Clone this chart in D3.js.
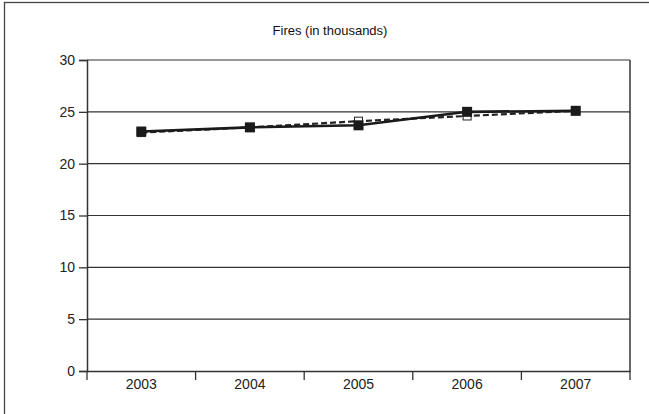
<html lang="en">
<head>
  <meta http-equiv="Content-Type" content="text/html; charset=utf-8" />
  <script src="https://d3js.org/d3.v7.min.js"></script>
  <style>
    body { margin: 0; background: #fff; }
    svg text { font-family: "Liberation Sans", Arial, sans-serif; }
  </style>
</head>
<body>
  <div id="chart"></div>
  <script>
    'use strict';
    const title = "Fires (in thousands)";
    const years = ["2003", "2004", "2005", "2006", "2007"];
    const solidValues = [23.1, 23.5, 23.7, 25.0, 25.1];
    const dashedValues = [23.0, 23.5, 24.1, 24.6, 25.1];
    const yTicks = [0, 5, 10, 15, 20, 25, 30];

    const svgWidth = 649, svgHeight = 414;
    const margin = {top: 60, bottom: 43, left: 87, right: 19};
    const width = svgWidth - margin.left - margin.right;
    const height = svgHeight - margin.top - margin.bottom;
    const ink = "#333";

    const svg = d3.select("#chart").append("svg")
      .attr("width", svgWidth).attr("height", svgHeight);

    // outer frame (only top & left visible in the crop)
    svg.append("rect").attr("x", 4.5).attr("y", 2.5)
      .attr("width", svgWidth + 10).attr("height", svgHeight + 10)
      .attr("fill", "none").attr("stroke", "#444").attr("stroke-width", 1.3);

    svg.append("text").attr("x", 330).attr("y", 35)
      .attr("text-anchor", "middle")
      .style("font-family", "'Liberation Sans Narrow', 'Liberation Sans', Arial, sans-serif")
      .attr("font-size", "13px").attr("fill", "#111")
      .text(title);

    const g = svg.append("g").attr("transform", `translate(${margin.left},${margin.top})`);

    const x = d3.scaleBand().domain(years).range([0, width]);
    const y = d3.scaleLinear().domain([0, 30]).range([height, 0]);

    // gridlines
    g.selectAll("line.grid").data(yTicks.filter(d => d > 0)).join("line")
      .attr("class", "grid")
      .attr("x1", 0).attr("x2", width)
      .attr("y1", d => y(d)).attr("y2", d => y(d))
      .attr("stroke", ink).attr("stroke-width", 1.2);

    // right edge of the plot area
    g.append("line").attr("x1", width).attr("x2", width)
      .attr("y1", 0).attr("y2", height)
      .attr("stroke", ink).attr("stroke-width", 1.5);

    // y axis
    const yAxis = g.append("g")
      .call(d3.axisLeft(y).tickValues(yTicks).tickSize(8).tickPadding(4));
    yAxis.select(".domain").attr("stroke", ink).attr("stroke-width", 1.5);
    yAxis.selectAll(".tick line").attr("stroke", ink).attr("stroke-width", 1.3);
    yAxis.selectAll(".tick text").attr("font-size", "14px").attr("fill", "#222");

    // x axis: ticks at category boundaries
    const xAxis = g.append("g").attr("transform", `translate(0,${height})`)
      .call(d3.axisBottom(x).tickSize(0).tickPadding(8));
    xAxis.select(".domain").attr("stroke", ink).attr("stroke-width", 1.5);
    xAxis.selectAll(".tick text").attr("font-size", "14px").attr("fill", "#222");
    const bounds = years.map(d => x(d)).concat([width]);
    xAxis.selectAll("line.bound").data(bounds).join("line")
      .attr("class", "bound")
      .attr("x1", d => d).attr("x2", d => d)
      .attr("y1", 0).attr("y2", 9)
      .attr("stroke", ink).attr("stroke-width", 1.3);

    const cx = d => x(d) + x.bandwidth() / 2;
    const line = d3.line().x(d => cx(d.year)).y(d => y(d.value));
    const dashedData = years.map((yr, i) => ({year: yr, value: dashedValues[i]}));
    const solidData = years.map((yr, i) => ({year: yr, value: solidValues[i]}));

    // dashed series
    g.append("path").datum(dashedData).attr("d", line)
      .attr("fill", "none").attr("stroke", "#222")
      .attr("stroke-width", 2.2).attr("stroke-dasharray", "6,3");
    g.selectAll("rect.open").data(dashedData).join("rect")
      .attr("class", "open")
      .attr("x", d => cx(d.year) - 4).attr("y", d => y(d.value) - 4)
      .attr("width", 8).attr("height", 8)
      .attr("fill", "#fff").attr("stroke", "#222").attr("stroke-width", 1);

    // solid series
    g.append("path").datum(solidData).attr("d", line)
      .attr("fill", "none").attr("stroke", "#1a1a1a").attr("stroke-width", 2.6);
    g.selectAll("rect.filled").data(solidData).join("rect")
      .attr("class", "filled")
      .attr("x", d => cx(d.year) - 5).attr("y", d => y(d.value) - 5)
      .attr("width", 10).attr("height", 10)
      .attr("fill", "#1a1a1a");
  </script>
</body>
</html>
